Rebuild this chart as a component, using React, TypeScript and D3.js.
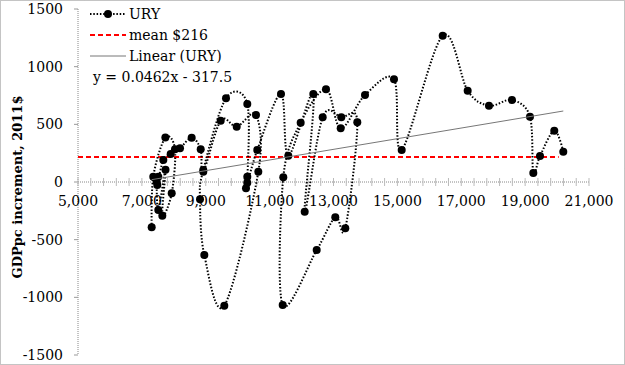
import React from 'react';
import * as d3 from 'd3';

// URY: GDPpc level (x) and year-on-year increment (y), in time order
const gdpLevel = [
  7307, 7357, 7735, 8037, 7934, 7640, 7740, 7514, 7464, 7514, 7483, 7671, 7902,
  8194, 8559, 8842, 8923, 9468, 9969, 10573, 10646,
  9581, 8955, 8820, 8923, 9634, 10301, 10301, 10301, 10260, 10614,
  11356, 11585, 12368, 12098, 12661, 13244, 13745,
  13370, 13056, 12474, 11409, 11428, 11972, 12765, 13225, 13986, 14894, 15135,
  16419, 17201, 17868, 18588, 19152, 19256, 19466, 19913, 20195,
];
const increment = [
  -393, 46, 385, 284, -98, -292, 107, -243, 3, 46, -26, 191, 243,
  293, 384, 284, 89, 532, 480, 581, 89,
  -1073, -633, -150, 104, 726, 676, -6, 46, -55, 278,
  763, 228, 763, -258, 561, 561, 518,
  -402, -306, -590, -1067, 41, 514, 804, 466, 754, 891, 278,
  1269, 792, 662, 711, 566, 78, 225, 445, 263,
];
const meanValue = 216;
const meanRange = [5000, 20050];
const slope = 0.0462;
const intercept = -317.5;

const xTicks = [5000, 7000, 9000, 11000, 13000, 15000, 17000, 19000, 21000];
const yTicks = [-1500, -1000, -500, 0, 500, 1000, 1500];
const legendLabels = ['URY', 'mean $216', 'Linear (URY)'];

const W = 625;
const H = 365;
const serif = 'DejaVu Serif';

export default function App() {
  const x = d3.scaleLinear().domain([5000, 21000]).range([78, 589]);
  const y = d3.scaleLinear().domain([-1500, 1500]).range([355, 9]);

  const pts: [number, number][] = gdpLevel.map((v, i) => [x(v), y(increment[i])]);
  const line = d3.line().curve(d3.curveCardinal.tension(0));
  const path = line(pts) || '';

  const xMin = d3.min(gdpLevel) as number;
  const xMax = d3.max(gdpLevel) as number;

  const minorTicks = d3.range(5000, 21001, 400);
  const txt = { fontFamily: serif, fontSize: 14, fill: '#000' };

  return (
    <svg width={W} height={H} style={{ position: 'absolute', left: 0, top: 0, background: '#fff' }}>
      <rect x={0.5} y={0.5} width={W - 1} height={H - 1} fill="#fff" stroke="#888" strokeDasharray="1 1" />

      {/* y axis */}
      <line x1={78} x2={78} y1={y(1500)} y2={y(-1500)} stroke="#888" strokeDasharray="1 1" />
      {yTicks.map(t => (
        <g key={t}>
          <line x1={74} x2={78} y1={y(t)} y2={y(t)} stroke="#999" />
          <text x={63} y={y(t)} dy="0.35em" textAnchor="end" style={txt}>{t}</text>
        </g>
      ))}

      {/* x axis at y = 0 */}
      <line x1={x(5000)} x2={x(21000)} y1={y(0)} y2={y(0)} stroke="#888" strokeDasharray="1 1" />
      {minorTicks.map(t => (
        <line key={t} x1={x(t)} x2={x(t)} y1={y(0) - 4} y2={y(0) + 4} stroke="#bbb" />
      ))}
      {xTicks.map(t => (
        <text key={t} x={x(t)} y={y(0) + 19} dy="0.35em" textAnchor="middle" style={txt}>
          {d3.format(',')(t)}
        </text>
      ))}

      <text
        transform={`translate(22,${187}) rotate(-90)`}
        textAnchor="middle"
        style={{ ...txt, fontSize: 13, fontWeight: 'bold' }}
      >
        GDPpc increment, 2011$
      </text>

      {/* mean */}
      <line x1={x(meanRange[0])} x2={x(meanRange[1])} y1={y(meanValue)} y2={y(meanValue)} stroke="#ff0000" strokeWidth={2} strokeDasharray="5 3" />

      {/* series */}
      <path d={path} fill="none" stroke="#000" strokeWidth={2} strokeDasharray="1.5 1.8" />
      {pts.map((p, i) => (
        <circle key={i} cx={p[0]} cy={p[1]} r={4} fill="#000" />
      ))}

      {/* trend */}
      <line
        x1={x(xMin)} x2={x(xMax)}
        y1={y(slope * xMin + intercept)} y2={y(slope * xMax + intercept)}
        stroke="#777" strokeWidth={1}
      />

      {/* legend */}
      <line x1={90} x2={126} y1={14} y2={14} stroke="#000" strokeWidth={2} strokeDasharray="1.5 1.8" />
      <circle cx={108} cy={14} r={4} fill="#000" />
      <text x={129} y={14} dy="0.35em" style={txt}>{legendLabels[0]}</text>
      <line x1={90} x2={126} y1={35} y2={35} stroke="#ff0000" strokeWidth={2} strokeDasharray="5 3" />
      <text x={129} y={35} dy="0.35em" style={txt}>{legendLabels[1]}</text>
      <line x1={90} x2={126} y1={56} y2={56} stroke="#777" strokeWidth={1} />
      <text x={129} y={56} dy="0.35em" style={txt}>{legendLabels[2]}</text>
      <text x={93} y={77} dy="0.35em" style={txt}>{`y = ${slope}x - ${-intercept}`}</text>
    </svg>
  );
}
